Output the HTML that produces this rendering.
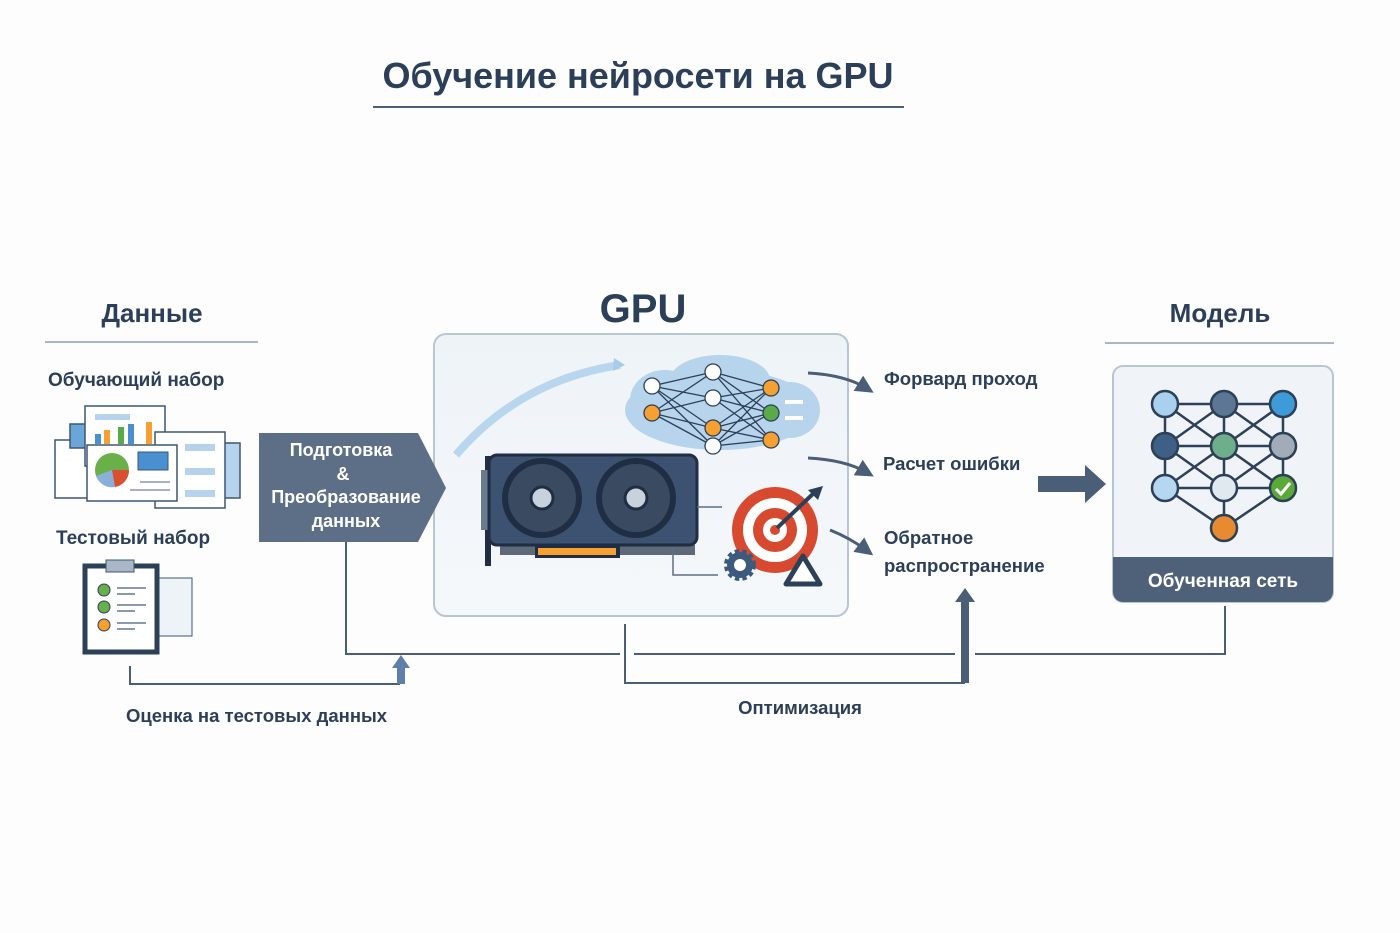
<!DOCTYPE html>
<html><head><meta charset="utf-8"><style>
body{margin:0;background:#fdfdfe;}
svg{display:block;font-family:"Liberation Sans",sans-serif;}
</style></head><body>
<svg width="1400" height="933" viewBox="0 0 1400 933" xmlns="http://www.w3.org/2000/svg">
<defs>
<linearGradient id="gb" x1="0" y1="0" x2="0" y2="1"><stop offset="0" stop-color="#eef3f8"/><stop offset="1" stop-color="#f5f8fb"/></linearGradient>
<marker id="ah" markerWidth="6" markerHeight="6" refX="3" refY="3" orient="auto" markerUnits="strokeWidth"><path d="M0,0 L6,3 L0,6z" fill="#4a5e78"/></marker>
</defs>
<rect width="1400" height="933" fill="#fdfdfe"/>
<!-- title -->
<text x="638" y="88" font-size="36" font-weight="bold" fill="#2c3f58" text-anchor="middle">Обучение нейросети на GPU</text>
<line x1="373" y1="107" x2="904" y2="107" stroke="#4a5e78" stroke-width="2"/>
<!-- headers -->
<text x="152" y="322" font-size="26" font-weight="bold" fill="#2c3f58" text-anchor="middle">Данные</text>
<line x1="45" y1="342" x2="258" y2="342" stroke="#a9b6c6" stroke-width="2"/>
<text x="643" y="322" font-size="40" font-weight="bold" fill="#2c3f58" text-anchor="middle">GPU</text>
<text x="1220" y="322" font-size="26" font-weight="bold" fill="#2c3f58" text-anchor="middle">Модель</text>
<line x1="1105" y1="343" x2="1334" y2="343" stroke="#a9b6c6" stroke-width="2"/>
<!-- left -->
<text x="48" y="386" font-size="19" font-weight="bold" fill="#2c3f58">Обучающий набор</text>
<text x="56" y="544" font-size="19" font-weight="bold" fill="#2c3f58">Тестовый набор</text>
<!-- data docs icon -->
<g stroke="#3c5675" stroke-width="1.5">
<rect x="55" y="440" width="40" height="58" fill="#fff"/>
<rect x="70" y="424" width="30" height="24" fill="#6aa7d8"/>
<rect x="185" y="443" width="55" height="55" fill="#b5d3ec"/>
<rect x="85" y="406" width="80" height="60" fill="#fff"/>
<rect x="155" y="432" width="70" height="76" fill="#fff"/>
<rect x="87" y="445" width="90" height="56" fill="#fff"/>
</g>
<rect x="95" y="414" width="35" height="6" fill="#b5d3ec"/>
<rect x="95" y="434" width="6" height="10" fill="#4a90d0"/><rect x="104" y="430" width="6" height="14" fill="#f5a030"/><rect x="118" y="427" width="6" height="17" fill="#5aaa4a"/><rect x="128" y="424" width="6" height="20" fill="#4a90d0"/><rect x="146" y="422" width="6" height="22" fill="#f5a030"/>
<circle cx="112" cy="470" r="17" fill="#6ab04a"/><path d="M112,470 L129,470 A17,17 0 0 1 115,487z" fill="#d85030"/><path d="M112,470 L115,487 A17,17 0 0 1 96,476z" fill="#8ab0d8"/>
<rect x="138" y="452" width="30" height="18" fill="#4a90d0" stroke="#3c5675"/>
<g stroke="#8a9aae" stroke-width="1.5"><line x1="140" y1="482" x2="170" y2="482"/><line x1="130" y1="490" x2="170" y2="490"/></g>
<rect x="185" y="444" width="30" height="7" fill="#b5d3ec"/><rect x="185" y="468" width="30" height="7" fill="#b5d3ec"/><rect x="185" y="490" width="30" height="7" fill="#b5d3ec"/>
<!-- test clipboard -->
<rect x="150" y="578" width="42" height="58" fill="#eef3f8" stroke="#3c5675"/>
<rect x="85" y="566" width="72" height="86" fill="#fff" stroke="#2c4058" stroke-width="5"/>
<rect x="106" y="560" width="28" height="12" fill="#a9b6c6" stroke="#3c5675"/>
<circle cx="104" cy="590" r="6" fill="#6ab04a" stroke="#2c4058"/><circle cx="104" cy="607" r="6" fill="#6ab04a" stroke="#2c4058"/><circle cx="104" cy="625" r="6" fill="#f5a030" stroke="#2c4058"/>
<g stroke="#8a9aae" stroke-width="2"><line x1="117" y1="588" x2="146" y2="588"/><line x1="117" y1="594" x2="135" y2="594"/><line x1="117" y1="605" x2="146" y2="605"/><line x1="117" y1="611" x2="135" y2="611"/><line x1="117" y1="623" x2="146" y2="623"/><line x1="117" y1="629" x2="135" y2="629"/></g>
<!-- GPU box -->
<rect x="434" y="334" width="414" height="282" rx="12" fill="url(#gb)" stroke="#b7c5d5" stroke-width="2"/>
<!-- prep arrow -->
<path d="M259,433 L418,433 L446,488 L418,542 L259,542z" fill="#5d6f86"/>
<g font-size="18" font-weight="bold" fill="#fff" text-anchor="middle">
<text x="341" y="456">Подготовка</text><text x="343" y="480">&amp;</text><text x="346" y="503">Преобразование</text><text x="346" y="527">данных</text></g>
<path d="M456,455 Q520,380 620,365" stroke="#b8d6ee" stroke-width="8" fill="none"/>
<path d="M614,358 L625,365 L613,371z" fill="#a8cbe8"/>
<!-- cloud -->
<g fill="#a9cdea" opacity="0.8"><ellipse cx="720" cy="410" rx="95" ry="40"/><ellipse cx="665" cy="400" rx="35" ry="30"/><ellipse cx="790" cy="410" rx="30" ry="28"/><ellipse cx="720" cy="380" rx="50" ry="25"/></g>
<rect x="785" y="400" width="18" height="4" fill="#fff"/><rect x="785" y="416" width="18" height="4" fill="#fff"/>
<g stroke="#2c4058" stroke-width="1.3">
<path fill="none" d="M652,386 L713,372 M652,386 L713,398 M652,386 L713,428 M652,386 L713,446 M652,413 L713,372 M652,413 L713,398 M652,413 L713,428 M652,413 L713,446 M713,372 L771,388 M713,372 L771,413 M713,372 L771,440 M713,398 L771,388 M713,398 L771,413 M713,398 L771,440 M713,428 L771,388 M713,428 L771,413 M713,428 L771,440 M713,446 L771,388 M713,446 L771,413 M713,446 L771,440"/>
<circle cx="652" cy="386" r="8" fill="#fff"/><circle cx="652" cy="413" r="8" fill="#f5a030"/>
<circle cx="713" cy="372" r="8" fill="#fff"/><circle cx="713" cy="398" r="8" fill="#fff"/><circle cx="713" cy="428" r="8" fill="#f5a030"/><circle cx="713" cy="446" r="8" fill="#fff"/>
<circle cx="771" cy="388" r="8" fill="#f5a030"/><circle cx="771" cy="413" r="8" fill="#5aaa4a"/><circle cx="771" cy="440" r="8" fill="#f5a030"/>
</g>
<!-- GPU card -->
<rect x="485" y="456" width="6" height="110" fill="#1f2e42"/>
<rect x="481" y="470" width="8" height="60" fill="#6a7a8e"/>
<rect x="489" y="455" width="208" height="90" rx="8" fill="#3d5170" stroke="#1f2e42" stroke-width="3"/>
<rect x="500" y="545" width="195" height="10" fill="#1f2e42" opacity="0.7"/>
<rect x="535" y="545" width="85" height="13" fill="#1f2e42"/>
<rect x="538" y="548" width="78" height="7" fill="#f5a030"/>
<circle cx="542" cy="498" r="40" fill="#1f2e42"/><circle cx="636" cy="498" r="40" fill="#1f2e42"/>
<circle cx="542" cy="498" r="34" fill="#3a4a60"/><circle cx="636" cy="498" r="34" fill="#3a4a60"/>
<circle cx="542" cy="498" r="11" fill="#c8d2dd" stroke="#1f2e42" stroke-width="3"/><circle cx="636" cy="498" r="11" fill="#c8d2dd" stroke="#1f2e42" stroke-width="3"/>
<path d="M697,507 L722,507 M673,548 L673,575 L718,575" stroke="#5d6f86" stroke-width="1.5" fill="none"/>
<!-- target -->
<circle cx="775" cy="530" r="43" fill="#d84a30"/><circle cx="775" cy="530" r="32" fill="#fff"/><circle cx="775" cy="530" r="22" fill="#d84a30"/><circle cx="775" cy="530" r="12" fill="#fff"/><circle cx="775" cy="530" r="5" fill="#d84a30"/>
<line x1="777" y1="528" x2="815" y2="492" stroke="#2c4058" stroke-width="4"/><path d="M808,490 L823,486 L818,500z" fill="#2c4058"/>
<circle cx="740" cy="565" r="13" fill="#3c5a7e" stroke="#3c5a7e" stroke-width="6" stroke-dasharray="4 3"/><circle cx="740" cy="565" r="6" fill="#fff"/>
<path d="M803,556 L820,584 L786,584z" fill="#fff" stroke="#2c4058" stroke-width="5" stroke-linejoin="round"/>
<!-- side arrows & labels -->
<g stroke="#4a5e78" stroke-width="3" fill="none" marker-end="url(#ah)">
<path d="M808,373 Q845,375 866,388"/><path d="M808,458 Q845,460 866,472"/><path d="M830,530 Q850,538 866,550"/></g>
<g font-size="18.5" font-weight="bold" fill="#2c3f58">
<text x="884" y="385">Форвард проход</text><text x="883" y="470">Расчет ошибки</text>
<text x="884" y="544">Обратное</text><text x="884" y="572">распространение</text></g>
<path d="M1038,476 L1085,476 L1085,465 L1106,484 L1085,503 L1085,492 L1038,492z" fill="#4a5e78"/>
<!-- model box -->
<rect x="1113" y="366" width="220" height="236" rx="10" fill="#f0f4f8" stroke="#b7c5d5" stroke-width="2"/>
<path d="M1113,557 L1333,557 L1333,592 A10,10 0 0 1 1323,602 L1123,602 A10,10 0 0 1 1113,592z" fill="#4f6179"/>
<text x="1223" y="587" font-size="19" font-weight="bold" fill="#fff" text-anchor="middle">Обученная сеть</text>
<g stroke="#2c4058" stroke-width="2.5">
<path fill="none" d="M1165,404 L1283,404 M1165,446 L1283,446 M1165,488 L1283,488 M1165,404 L1165,488 M1224,404 L1224,488 M1283,404 L1283,488 M1165,404 L1224,446 L1283,404 M1165,446 L1224,404 L1283,446 M1165,446 L1224,488 L1283,446 M1165,488 L1224,446 L1283,488 M1165,404 L1283,488 M1283,404 L1165,488 M1165,488 L1224,528 L1283,488 M1224,488 L1224,528"/>
<circle cx="1165" cy="404" r="13" fill="#a9d0ee"/><circle cx="1224" cy="404" r="13" fill="#5d7694"/><circle cx="1283" cy="404" r="13" fill="#3f9ad8"/>
<circle cx="1165" cy="446" r="13" fill="#3e5f86"/><circle cx="1224" cy="446" r="13" fill="#6fae8a"/><circle cx="1283" cy="446" r="13" fill="#a2acb8"/>
<circle cx="1165" cy="488" r="13" fill="#b5d8f0"/><circle cx="1224" cy="488" r="13" fill="#e0e8f0"/><circle cx="1283" cy="488" r="13" fill="#5aaa3a"/>
<circle cx="1224" cy="528" r="13" fill="#e88a30"/></g>
<path d="M1276,489 L1281,494 L1290,483" stroke="#fff" stroke-width="3" fill="none"/>
<!-- connectors -->
<g stroke="#4a5e78" stroke-width="2" fill="none">
<path d="M346,542 L346,654 L620,654"/><path d="M634,654 L955,654"/><path d="M975,654 L1225,654 L1225,606"/>
<path d="M625,624 L625,683 L965,683"/>
<path d="M130,666 L130,684 L400,684"/></g>
<path d="M961,683 L961,602 L955,602 L965,588 L975,602 L969,602 L969,683z" fill="#4a5e78"/>
<path d="M397,684 L397,668 L392,668 L401,655 L410,668 L405,668 L405,684z" fill="#5d7faa"/>
<text x="126" y="722" font-size="18.5" font-weight="bold" fill="#2c3f58">Оценка на тестовых данных</text>
<text x="800" y="714" font-size="18.5" font-weight="bold" fill="#2c3f58" text-anchor="middle">Оптимизация</text>
</svg>
</body></html>
